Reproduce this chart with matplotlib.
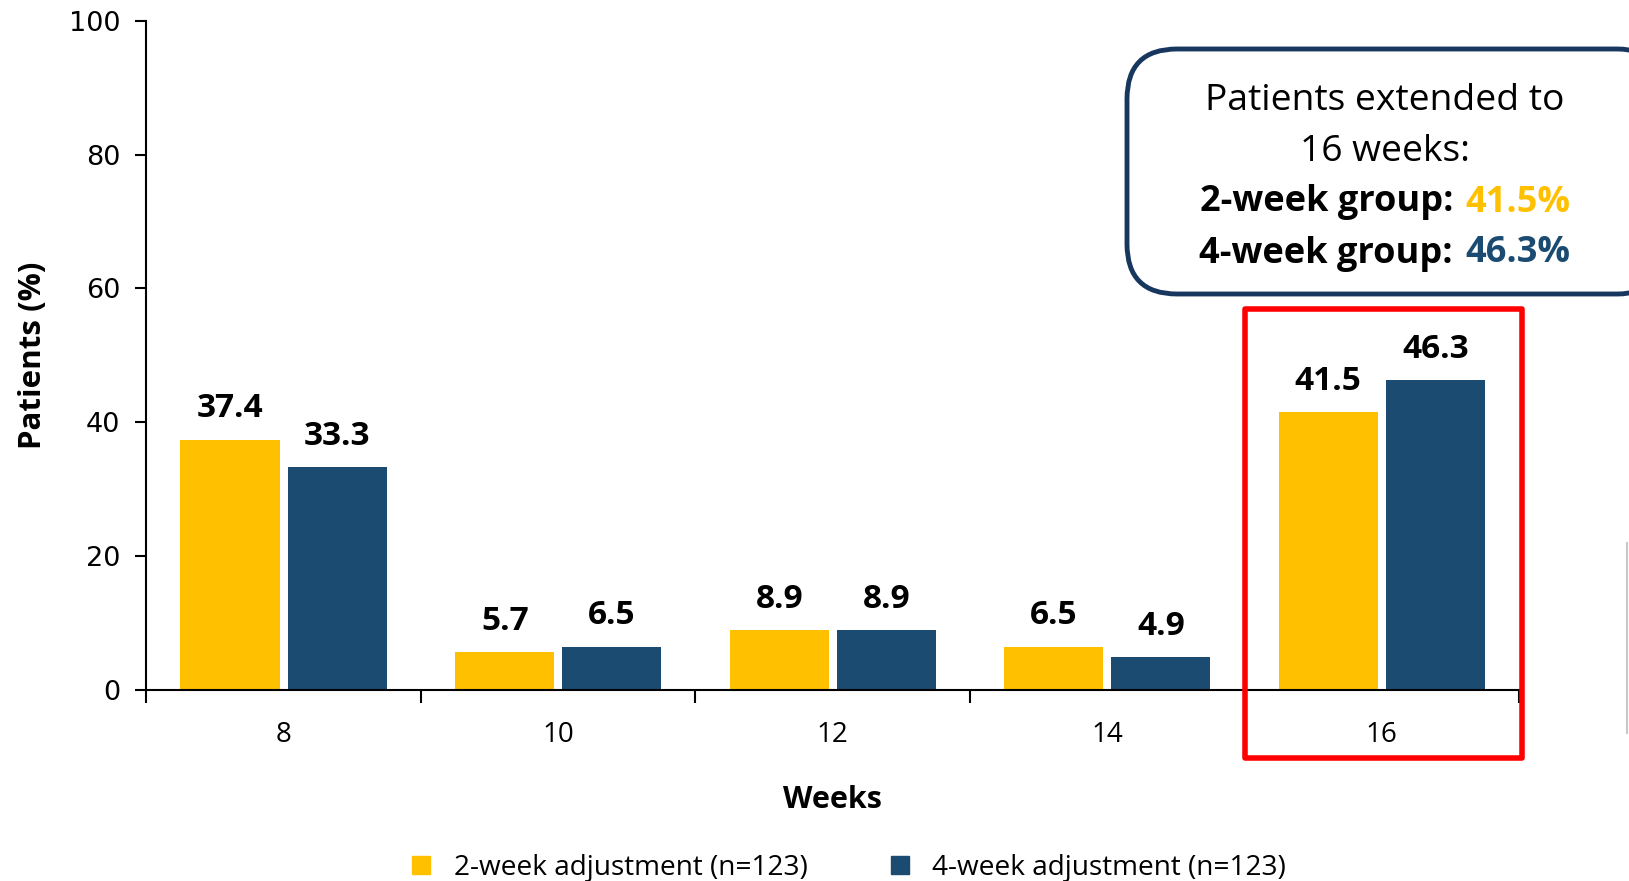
import matplotlib
matplotlib.use('Agg')
import matplotlib.pyplot as plt
from matplotlib.patches import FancyBboxPatch, Rectangle
from matplotlib.lines import Line2D
import numpy as np

weeks = ['8', '10', '12', '14', '16']
two_week = [37.4, 5.7, 8.9, 6.5, 41.5]
four_week = [33.3, 6.5, 8.9, 4.9, 46.3]
series_names = ['2-week adjustment (n=123)', '4-week adjustment (n=123)']
yticks = [0, 20, 40, 60, 80, 100]

YELLOW = '#FFC000'
BLUE = '#1B4B70'
NAVY = '#17375E'
FONT = ['Open Sans', 'DejaVu Sans']

fig = plt.figure(figsize=(16.29, 8.81), dpi=100)
ax = fig.add_axes([0.0899, 0.2168, 0.8426, 0.7596])

x = np.arange(len(weeks))
width = 0.362
off = 0.195
b1 = ax.bar(x - off, two_week, width, color=YELLOW, zorder=2)
b2 = ax.bar(x + off, four_week, width, color=BLUE, zorder=2)

for bars, vals in ((b1, two_week), (b2, four_week)):
    for rect, v in zip(bars, vals):
        ax.annotate(f'{v}', (rect.get_x() + rect.get_width() / 2, v),
                    xytext=(0, 16), textcoords='offset points',
                    ha='center', va='baseline', fontsize=24,
                    fontweight='bold', family=FONT)

ax.set_xlim(-0.5, len(weeks) - 0.5)
ax.set_ylim(0, 100)
ax.set_yticks(yticks)
ax.tick_params(axis='y', labelsize=19.5, length=8, width=1.5, direction='out', pad=11)
for lab in ax.get_yticklabels():
    lab.set_family('DejaVu Sans')

# major ticks sit on group boundaries, labels on the centres
ax.set_xticks(np.arange(-0.5, len(weeks)))
ax.set_xticklabels([])
ax.set_xticks(x, minor=True)
ax.set_xticklabels(weeks, minor=True, fontsize=20, family=FONT)
ax.tick_params(axis='x', which='major', length=9, width=1.5, direction='out')
ax.tick_params(axis='x', which='minor', length=0, pad=22)

for s in ('top', 'right'):
    ax.spines[s].set_visible(False)
for s in ('left', 'bottom'):
    ax.spines[s].set_linewidth(1.5)

ax.set_xlabel('Weeks', fontsize=22, fontweight='bold', family=FONT, labelpad=26)
ax.set_ylabel('Patients (%)', fontsize=22.5, fontweight='bold', family=FONT, labelpad=14.5)

# red highlight round the 16-week group
hl = Rectangle((3.502, -10.2), 1.007, 67.1, fill=False, edgecolor='#FF0000',
               linewidth=4, joinstyle='round', clip_on=False, zorder=5)
ax.add_patch(hl)

# callout box, in inches
inch = fig.dpi_scale_trans
box = FancyBboxPatch((11.27, 5.87), 5.4, 2.45,
                     boxstyle='round,pad=0,rounding_size=0.5',
                     facecolor='white', edgecolor=NAVY, linewidth=3.5,
                     transform=inch, clip_on=False)
fig.patches.append(box)

fig.text(13.85, 7.80, 'Patients extended to', transform=inch, ha='center',
         va='center', fontsize=26.8, family=FONT)
fig.text(13.85, 7.29, f'{weeks[-1]} weeks:', transform=inch, ha='center',
         va='center', fontsize=26.8, family=FONT)
for yy, name, val, col in ((6.785, '2-week group:', two_week[-1], YELLOW),
                           (6.275, '4-week group:', four_week[-1], BLUE)):
    fig.text(14.53, yy, name, transform=inch, ha='right', va='center',
             fontsize=26, fontweight='bold', family=FONT)
    fig.text(14.65, yy, f'{val}%', transform=inch, ha='left', va='center',
             fontsize=26, fontweight='bold', color=col, family=FONT)

# thin grey edge line at the right border
fig.add_artist(Line2D([16.275, 16.275], [1.48, 3.38], transform=inch,
                      color='#C8C8C8', linewidth=1.5))

handles = [Line2D([], [], marker='s', linestyle='none', markersize=13,
                  color=c) for c in (YELLOW, BLUE)]
fig.legend(handles, series_names, loc='center', bbox_to_anchor=(0.5206, 0.015),
           ncol=2, frameon=False, handlelength=0.8, handletextpad=0.75,
           columnspacing=2.9, prop={'family': 'Open Sans', 'size': 20.2})

fig.savefig('out.png', dpi=100)
